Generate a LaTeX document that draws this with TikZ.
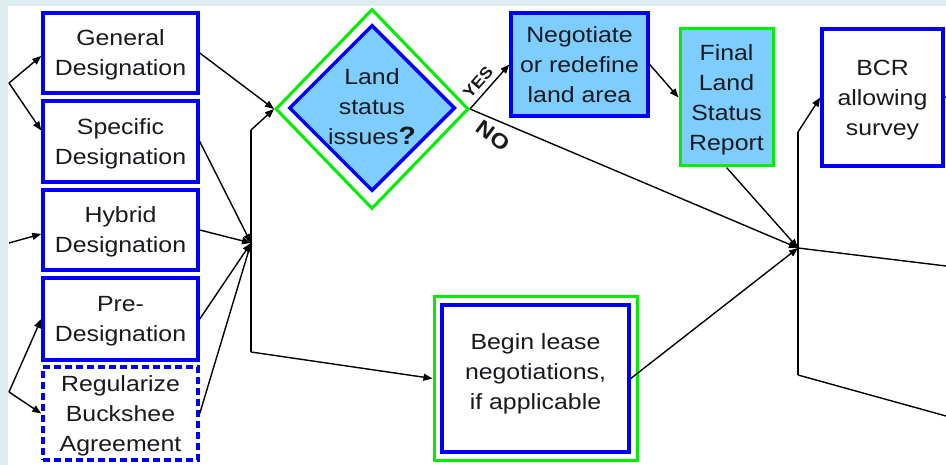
\documentclass[tikz,border=0pt]{standalone}
\usepackage{fontspec}
\setmainfont{Liberation Sans}[FakeStretch=1.13]
\usetikzlibrary{shapes.geometric,arrows.meta}
\definecolor{framebg}{RGB}{221,236,238}
\definecolor{boxblue}{RGB}{0,0,250}
\definecolor{boxgreen}{RGB}{0,238,0}
\definecolor{skyfill}{RGB}{125,205,255}
\definecolor{inktext}{RGB}{25,25,30}

\begin{document}
\begin{tikzpicture}[x=1pt,y=-1pt,
  txt/.style={font=\fontsize{22}{30}\selectfont, align=center, text=inktext, text depth=0pt},
  box/.style={txt, rectangle, draw=boxblue, line width=3.5pt, inner sep=0pt, fill=white},
  gbox/.style={box, draw=boxgreen, line width=3pt},
  conn/.style={draw=black, line width=1.4pt},
  arr/.style={conn, -{Triangle[length=9pt,width=7pt]}},
  branchlabel/.style={font=\bfseries\fontsize{#1}{#1}\selectfont, text=inktext, inner sep=0pt},
]
% page frame
\fill[framebg] (0,0) rectangle (946,465);
\fill[white] (8,6) rectangle (946,465);
\useasboundingbox (0,0) rectangle (946,465);

% designation options
\node[box, minimum width=155pt, minimum height=80pt] (general) at (120.5,53) {General\\Designation};
\node[box, minimum width=155pt, minimum height=81pt] (specific) at (120.5,141.5) {Specific\\Designation};
\node[box, minimum width=155pt, minimum height=80pt] (hybrid) at (120.5,230) {Hybrid\\Designation};
\node[box, minimum width=155pt, minimum height=82pt] (pre) at (120.5,319) {Pre-\\Designation};
\node[box, dash pattern=on 7pt off 4pt, minimum width=155pt, minimum height=93pt] (regular) at (120.5,413.5) {Regularize\\Buckshee\\Agreement};

% decision
\node[diamond, draw=boxgreen, line width=3pt, fill=white, inner sep=0pt,
      minimum width=193pt, minimum height=200pt] (qout) at (372,109) {};
\node[diamond, draw=boxblue, line width=3.5pt, fill=skyfill, inner sep=0pt,
      minimum width=166pt, minimum height=166pt] (qin) at (372,108) {};
\node[txt, inner sep=0pt] (qtxt) at (372,107) {Land\\status\\issues{\bfseries\fontsize{25}{30}\selectfont ?}};

% outcome boxes
\node[box, fill=skyfill, minimum width=137pt, minimum height=103pt] (neg) at (579.5,64.5) {Negotiate\\or redefine\\land area};
\node[gbox, fill=skyfill, minimum width=93pt, minimum height=137pt] (final) at (726.5,97.5) {Final\\Land\\Status\\Report};
\node[box, minimum width=121pt, minimum height=137pt] (bcr) at (882.5,97.5) {BCR\\allowing\\survey};
\node[gbox, minimum width=203pt, minimum height=163pt] (leaseout) at (535.5,378.5) {};
\node[box, minimum width=187pt, minimum height=147pt, text depth=13pt] (lease) at (535.5,378.5) {Begin lease\\negotiations,\\if applicable};

% junctions and free ends
\coordinate (inA) at (9,83);
\coordinate (inB) at (9,243);
\coordinate (inC) at (9,392);
\coordinate (jL) at (251,243);
\coordinate (jLtop) at (251,130);
\coordinate (jLbot) at (251,352);
\coordinate (jR) at (798,248);
\coordinate (jRtop) at (798,132);
\coordinate (jRbot) at (798,375);
\coordinate (outA) at (946,97);
\coordinate (outB) at (946,266);
\coordinate (outC) at (946,416);

% incoming flows
\draw[arr] (inA) -- ([yshift=-3pt]general.west);
\draw[arr] (inA) -- ([yshift=11pt]specific.west);
\draw[arr] (inB) -- ([yshift=-4pt]hybrid.west);
\draw[arr] (inC) -- (pre.west);
\draw[arr] (inC) -- (regular.west);

% left junction
\draw[arr] (general.east) -- (qout.west);
\draw[arr] (specific.east) -- (jL);
\draw[arr] (hybrid.east) -- (jL);
\draw[arr] (pre.east) -- (jL);
\draw[arr] (regular.east) -- (jL);
\draw[conn] (jLtop) -- (jLbot);
\draw[arr] (jLtop) -- (qout.west);
\draw[arr] (jLbot) -- (leaseout.west);

% decision branches
\draw[arr] (qout.east) -- node[pos=0.42, sloped, above=5pt, branchlabel=16] (yes) {YES} (neg.west);
\draw[arr] (qout.east) -- node[pos=0.1, sloped, rotate=-14, below=8pt, branchlabel=21] (no) {NO} (jR);
\draw[arr] (neg.east) -- (final.west);
\draw[arr] (final.south) -- (jR);
\draw[arr] (lease.east) -- (jR);

% right junction
\draw[conn] (jRtop) -- (jRbot);
\draw[arr] (jRtop) -- (bcr.west);
\draw[conn] (bcr.east) -- (outA);
\draw[conn] (jR) -- (outB);
\draw[conn] (jRbot) -- (outC);
\end{tikzpicture}
\end{document}
